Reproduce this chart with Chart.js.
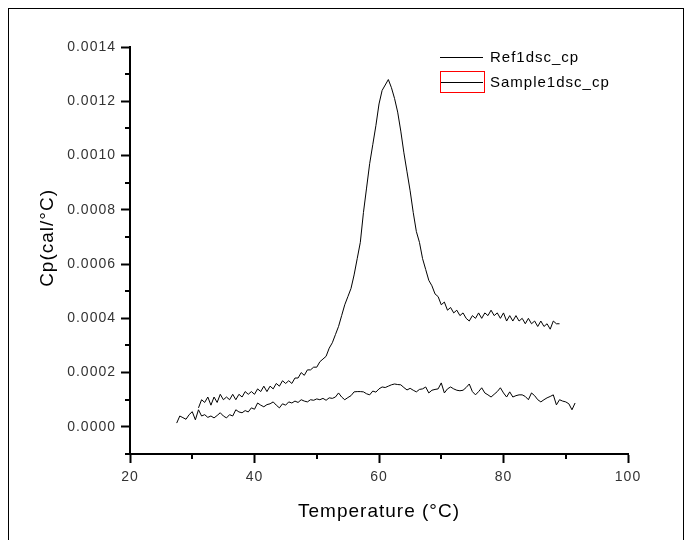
<!DOCTYPE html>
<html>
<head>
<meta charset="utf-8">
<script src="https://cdn.jsdelivr.net/npm/chart.js@4/dist/chart.umd.min.js"></script>
<style>
body { margin: 0; background: #fff; }
canvas { display: block; }
</style>
</head>
<body>
<canvas id="dsc" width="691" height="540"></canvas>
<script>
// DSC curves
const seriesNames = ['Ref1dsc_cp', 'Sample1dsc_cp'];

const refTemp = [
    31.0, 31.5, 32.0, 32.5, 33.0, 33.5, 34.0, 34.5, 35.0, 35.5,
    36.0, 36.5, 37.0, 37.5, 38.0, 38.5, 39.0, 39.5, 40.0, 40.5,
    41.0, 41.5, 42.0, 42.5, 43.0, 43.5, 44.0, 44.5, 45.0, 45.5,
    46.0, 46.5, 47.0, 47.5, 48.0, 48.5, 49.0, 49.5, 50.0, 50.5,
    51.0, 51.5, 52.0, 52.5, 53.0, 53.5, 54.0, 54.5, 55.0, 55.5,
    56.0, 56.5, 57.0, 57.5, 58.0, 58.5, 59.0, 59.5, 60.0, 60.5,
    61.0, 61.5, 62.0, 62.5, 63.0, 63.5, 64.0, 64.5, 65.0, 65.5,
    66.0, 66.5, 67.0, 67.5, 68.0, 68.5, 69.0, 69.5, 70.0, 70.5,
    71.0, 71.5, 72.0, 72.5, 73.0, 73.5, 74.0, 74.5, 75.0, 75.5,
    76.0, 76.5, 77.0, 77.5, 78.0, 78.5, 79.0, 79.5, 80.0, 80.5,
    81.0, 81.5, 82.0, 82.5, 83.0, 83.5, 84.0, 84.5, 85.0, 85.5,
    86.0, 86.5, 87.0, 87.5, 88.0, 88.5, 89.0
];
const refCp = [
    0.00007, 0.00010, 0.00009, 0.00011, 0.00008, 0.00011, 0.00009, 0.00012, 0.00010, 0.00011,
    0.00010, 0.00012, 0.00010, 0.00012, 0.00011, 0.00013, 0.00012, 0.00013, 0.00012, 0.00014,
    0.00013, 0.00015, 0.00013, 0.00015, 0.00014, 0.00016, 0.00015, 0.00017, 0.00016, 0.00017,
    0.00016, 0.00018, 0.00018, 0.00020, 0.00019, 0.00021, 0.00021, 0.00022, 0.00022, 0.00024,
    0.00025, 0.00026, 0.00029, 0.00031, 0.00034, 0.00037, 0.00041, 0.00045, 0.00048, 0.00051,
    0.00056, 0.00062, 0.00068, 0.00079, 0.00088, 0.00097, 0.00104, 0.00111, 0.00119, 0.00124,
    0.00126, 0.00128, 0.00125, 0.00121, 0.00116, 0.00109, 0.00101, 0.00094, 0.00087, 0.00079,
    0.00072, 0.00068, 0.00062, 0.00058, 0.00054, 0.00052, 0.00049, 0.00048, 0.00045, 0.00046,
    0.00043, 0.00044, 0.00042, 0.00043, 0.00041, 0.00042, 0.00040, 0.00039, 0.00041, 0.00040,
    0.00042, 0.00040, 0.00042, 0.00041, 0.00043, 0.00041, 0.00042, 0.00040, 0.00042, 0.00039,
    0.00041, 0.00039, 0.00041, 0.00039, 0.00040, 0.00038, 0.00040, 0.00038, 0.00039, 0.00037,
    0.00039, 0.00037, 0.00038, 0.00036, 0.00039, 0.00038, 0.00038
];

const sampleTemp = [
    27.5, 28.0, 28.5, 29.0, 29.5,
    30.0, 30.5, 31.0, 31.5, 32.0, 32.5, 33.0, 33.5, 34.0, 34.5,
    35.0, 35.5, 36.0, 36.5, 37.0, 37.5, 38.0, 38.5, 39.0, 39.5,
    40.0, 40.5, 41.0, 41.5, 42.0, 42.5, 43.0, 43.5, 44.0, 44.5,
    45.0, 45.5, 46.0, 46.5, 47.0, 47.5, 48.0, 48.5, 49.0, 49.5,
    50.0, 50.5, 51.0, 51.5, 52.0, 52.5, 53.0, 53.5, 54.0, 54.5,
    55.0, 55.5, 56.0, 56.5, 57.0, 57.5, 58.0, 58.5, 59.0, 59.5,
    60.0, 60.5, 61.0, 61.5, 62.0, 62.5, 63.0, 63.5, 64.0, 64.5,
    65.0, 65.5, 66.0, 66.5, 67.0, 67.5, 68.0, 68.5, 69.0, 69.5,
    70.0, 70.5, 71.0, 71.5, 72.0, 72.5, 73.0, 73.5, 74.0, 74.5,
    75.0, 75.5, 76.0, 76.5, 77.0, 77.5, 78.0, 78.5, 79.0, 79.5,
    80.0, 80.5, 81.0, 81.5, 82.0, 82.5, 83.0, 83.5, 84.0, 84.5,
    85.0, 85.5, 86.0, 86.5, 87.0, 87.5, 88.0, 88.5, 89.0, 89.5,
    90.0, 90.5, 91.0, 91.5
];
const sampleCp = [
    0.000014, 0.000040, 0.000034, 0.000028, 0.000045,
    0.000056, 0.000026, 0.000063, 0.000040, 0.000045, 0.000035, 0.000040, 0.000033, 0.000042, 0.000052,
    0.000040, 0.000033, 0.000045, 0.000040, 0.000063, 0.000055, 0.000052, 0.000060, 0.000055, 0.000070,
    0.000065, 0.000088, 0.000080, 0.000074, 0.000082, 0.000085, 0.000092, 0.000080, 0.000070, 0.000085,
    0.000080, 0.000092, 0.000088, 0.000095, 0.000090, 0.000100, 0.000095, 0.000092, 0.000100, 0.000098,
    0.000103, 0.000100, 0.000105, 0.000098, 0.000107, 0.000105, 0.000110, 0.000125, 0.000110, 0.000100,
    0.000108, 0.000115, 0.000129, 0.000130, 0.000130, 0.000129, 0.000122, 0.000118, 0.000132, 0.000128,
    0.000140, 0.000147, 0.000145, 0.000150, 0.000155, 0.000158, 0.000156, 0.000155, 0.000145, 0.000136,
    0.000142, 0.000135, 0.000129, 0.000138, 0.000140, 0.000147, 0.000125, 0.000135, 0.000138, 0.000140,
    0.000162, 0.000125, 0.000140, 0.000147, 0.000140, 0.000135, 0.000133, 0.000135, 0.000145, 0.000158,
    0.000130, 0.000118, 0.000130, 0.000144, 0.000125, 0.000118, 0.000110, 0.000120, 0.000130, 0.000144,
    0.000125, 0.000110, 0.000129, 0.000110, 0.000115, 0.000118, 0.000118, 0.000112, 0.000100, 0.000125,
    0.000115, 0.000100, 0.000092, 0.000100, 0.000107, 0.000112, 0.000118, 0.000081, 0.000100, 0.000095,
    0.000092, 0.000085, 0.000063, 0.000088
];

const xTicks = [20, 40, 60, 80, 100];
const xMinor = [30, 50, 70, 90];
const yTicks = [0, 0.0002, 0.0004, 0.0006, 0.0008, 0.0010, 0.0012, 0.0014];
const yMinor = [-0.0001, 0.0001, 0.0003, 0.0005, 0.0007, 0.0009, 0.0011, 0.0013];

const fontFam = '"Liberation Sans", Arial, sans-serif';

function points(xs, ys) {
    return xs.map((x, i) => ({ x: x, y: ys[i] }));
}

// white page + outer frame, wider letter spacing like the old renderer
const framePlugin = {
    id: 'frame',
    beforeLayout(chart) {
        chart.ctx.letterSpacing = '1px';
    },
    beforeDraw(chart) {
        const ctx = chart.ctx;
        ctx.save();
        ctx.fillStyle = '#fff';
        ctx.fillRect(0, 0, chart.width, chart.height);
        ctx.strokeStyle = '#000';
        ctx.lineWidth = 1;
        ctx.strokeRect(8.5, 8.5, 675, 545);
        ctx.restore();
        ctx.letterSpacing = '1px';
    }
};

// short minor ticks on both axes
const minorTicks = {
    id: 'minorTicks',
    afterDraw(chart) {
        const ctx = chart.ctx;
        const xs = chart.scales.x, ys = chart.scales.y;
        const a = chart.chartArea;
        ctx.save();
        ctx.strokeStyle = '#000';
        ctx.lineWidth = 2;
        ctx.beginPath();
        xMinor.forEach(v => {
            const px = Math.round(xs.getPixelForValue(v));
            ctx.moveTo(px, a.bottom);
            ctx.lineTo(px, a.bottom + 5);
        });
        yMinor.forEach(v => {
            const py = Math.round(ys.getPixelForValue(v));
            ctx.moveTo(a.left - 5, py);
            ctx.lineTo(a.left, py);
        });
        ctx.stroke();
        ctx.restore();
    }
};

// legend inside the plot, top right, with the red selection box
const legendBox = {
    id: 'legendBox',
    afterDraw(chart) {
        const ctx = chart.ctx;
        ctx.save();
        ctx.letterSpacing = '1px';
        ctx.font = '15px ' + fontFam;
        ctx.textBaseline = 'middle';
        ctx.fillStyle = '#000';
        ctx.strokeStyle = '#000';
        ctx.lineWidth = 1;
        const rows = [57, 82];
        seriesNames.forEach((name, i) => {
            ctx.beginPath();
            ctx.moveTo(440, rows[i] + 0.5);
            ctx.lineTo(483, rows[i] + 0.5);
            ctx.stroke();
            ctx.fillText(name, 490, rows[i] + 1);
        });
        ctx.strokeStyle = '#f00';
        ctx.strokeRect(440.5, 71.5, 44, 21);
        ctx.restore();
    }
};

const ctx = document.getElementById('dsc').getContext('2d');
const chart = new Chart(ctx, {
    type: 'line',
    data: {
        datasets: [
            {
                label: seriesNames[0],
                data: points(refTemp, refCp),
                borderColor: '#000',
                borderWidth: 1,
                pointRadius: 0,
                tension: 0,
                fill: false
            },
            {
                label: seriesNames[1],
                data: points(sampleTemp, sampleCp),
                borderColor: '#000',
                borderWidth: 1,
                pointRadius: 0,
                tension: 0,
                fill: false
            }
        ]
    },
    options: {
        responsive: false,
        animation: false,
        layout: {
            padding: { left: 0, top: 47, right: 63, bottom: 0 }
        },
        plugins: {
            legend: { display: false },
            tooltip: { enabled: false }
        },
        scales: {
            x: {
                type: 'linear',
                min: 20,
                max: 100,
                afterBuildTicks: (scale) => { scale.ticks = xTicks.map(v => ({ value: v })); },
                afterFit: (scale) => { scale.height = 86; },
                grid: {
                    drawOnChartArea: false,
                    drawTicks: true,
                    tickLength: 9,
                    tickWidth: 2,
                    tickColor: '#000'
                },
                border: { display: true, color: '#000', width: 2 },
                ticks: {
                    padding: 6,
                    color: '#333',
                    maxRotation: 0,
                    font: { family: fontFam, size: 14 }
                },
                title: {
                    display: true,
                    text: 'Temperature (°C)',
                    color: '#000',
                    font: { family: fontFam, size: 19 },
                    padding: { top: 0, bottom: 17 }
                }
            },
            y: {
                type: 'linear',
                min: -0.0001,
                max: 0.0014,
                afterBuildTicks: (scale) => { scale.ticks = yTicks.map(v => ({ value: v })); },
                afterFit: (scale) => { scale.width = 130; },
                grid: {
                    drawOnChartArea: false,
                    drawTicks: true,
                    tickLength: 9,
                    tickWidth: 2,
                    tickColor: '#000'
                },
                border: { display: true, color: '#000', width: 2 },
                ticks: {
                    padding: 5,
                    color: '#333',
                    font: { family: fontFam, size: 14 },
                    callback: (v) => v.toFixed(4)
                },
                title: {
                    display: true,
                    text: '    Cp(cal/°C)',
                    color: '#000',
                    font: { family: fontFam, size: 19 },
                    padding: { top: 36, bottom: 0 }
                }
            }
        }
    },
    plugins: [framePlugin, minorTicks, legendBox]
});
</script>
</body>
</html>
